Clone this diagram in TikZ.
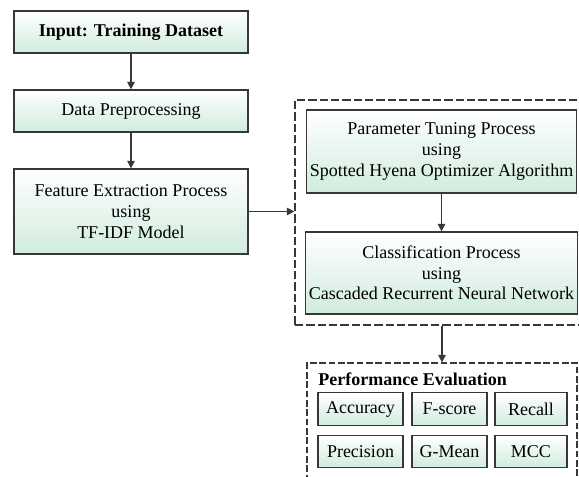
\documentclass[tikz,border=0pt]{standalone}
\usepackage{fontspec}
\setmainfont{Liberation Serif}
\usetikzlibrary{arrows.meta}

\definecolor{boxgreen}{RGB}{208,236,222}
\definecolor{edgegray}{RGB}{55,55,55}

\tikzset{
  procbox/.style={draw=edgegray, line width=0.75pt, top color=white, bottom color=boxgreen,
    align=center, inner sep=2pt, font=\fontsize{10.8}{12.4}\selectfont},
  metricbox/.style={procbox, minimum height=19.5pt},
  groupbox/.style={draw=edgegray, line width=0.75pt, dash pattern=on 5pt off 1.8pt},
  flow/.style={draw=edgegray, line width=0.75pt, -{Triangle[length=4.5pt,width=4.5pt]}}
}

\begin{document}
\begin{tikzpicture}[x=0.6pt, y=-0.6pt]
	\useasboundingbox (0,0) rectangle (579,476);
	% left column
	\node[procbox, minimum width=140.4pt, minimum height=25.2pt, font=\fontsize{10.8}{12.4}\selectfont\bfseries] (input) at (131,32) {Input: Training Dataset};
	\node[procbox, minimum width=140.4pt, minimum height=25.2pt] (prep) at (131,111) {Data Preprocessing};
	\node[procbox, minimum width=140.4pt, minimum height=51pt] (feat) at (131,211.5) {Feature Extraction Process\\using\\TF-IDF Model};
	% dashed group on the right
	\node[groupbox, minimum width=177pt, minimum height=135pt] (outer) at (442.5,212.5) {};
	\node[procbox, minimum width=161.4pt, minimum height=49.8pt] (param) at (441.5,151.5) {Parameter Tuning Process\\using\\Spotted Hyena Optimizer Algorithm};
	\node[procbox, minimum width=161.4pt, minimum height=49.2pt] (cls) at (441.5,273) {Classification Process\\using\\Cascaded Recurrent Neural Network};
	% performance evaluation
	\node[groupbox, dash pattern=on 4pt off 1.6pt, minimum width=162pt, minimum height=73.8pt] (perf) at (442,424.5) {};
	\node[anchor=west, inner sep=0pt, font=\fontsize{10.8}{12.4}\selectfont\bfseries] (perftitle) at (318,379) {Performance Evaluation};
	\node[metricbox, minimum width=51pt] (acc) at (360.5,409) {Accuracy};
	\node[metricbox, minimum width=45pt] (fsc) at (449.5,409) {F-score};
	\node[metricbox, minimum width=43.2pt] (rec) at (531,409) {Recall};
	\node[metricbox, minimum width=51pt] (prec) at (360.5,451.5) {Precision};
	\node[metricbox, minimum width=45pt] (gmean) at (449.5,451.5) {G-Mean};
	\node[metricbox, minimum width=43.2pt] (mcc) at (531,451.5) {MCC};
	% connectors
	\draw[flow] (input) -- (prep);
	\draw[flow] (prep) -- (feat);
	\draw[flow] (feat.east) -- (feat.east -| outer.west);
	\draw[flow] (param) -- (cls);
	\draw[flow] (perf.north |- outer.south) -- (perf.north);
\end{tikzpicture}
\end{document}
